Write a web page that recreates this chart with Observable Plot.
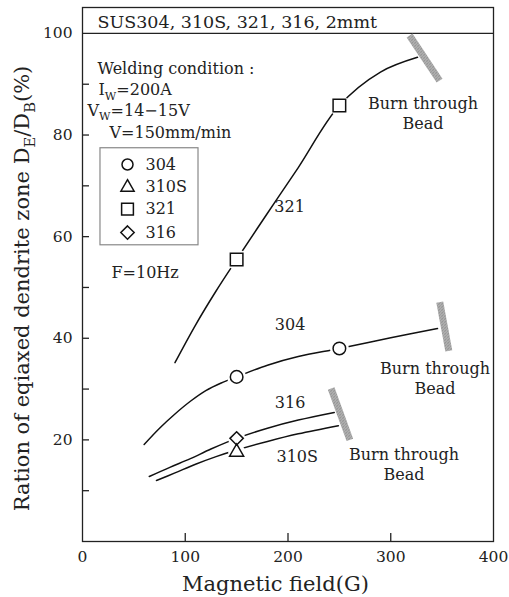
<!DOCTYPE html>
<html><head><meta charset="utf-8">
<script src="https://cdn.jsdelivr.net/npm/d3@7"></script>
<script src="https://cdn.jsdelivr.net/npm/@observablehq/plot@0.6"></script>
<style>body{margin:0;background:#fff}</style>
</head><body><div id="chart"></div>
<script>
const FONT = "DejaVu Serif";

// ---- data ----
const x321 = [90, 110, 130, 150, 180, 210, 250, 290, 326];
const y321 = [35.2, 42.6, 49.3, 55.5, 64.6, 73.6, 85.8, 92.4, 95.3];
const x304 = [60, 75, 90, 105, 120, 135, 150, 180, 210, 250, 300, 345.5];
const y304 = [19.1, 22.3, 25.1, 27.6, 29.7, 31.2, 32.4, 34.7, 36.4, 38.0, 40.1, 41.9];
const x316 = [65, 85, 105, 125, 150, 180, 210, 245];
const y316 = [12.8, 14.6, 16.3, 18.2, 20.3, 22.3, 23.9, 25.4];
const x310S = [72, 90, 110, 130, 150, 180, 210, 249];
const y310S = [12.0, 13.5, 15.2, 16.7, 18.0, 19.7, 21.2, 22.8];

// measured points (markers)
const mark304 = [[150, 32.4], [250, 38.0]];
const mark310S = [[150, 17.6]];
const mark321 = [[150, 55.5], [250, 85.8]];
const mark316 = [[150, 20.3]];

// burn-through limits (start and end of each shaded bar)
const burnBars = [
  [318.3, 99.6, 347.5, 90.7],
  [347.7, 47.1, 356.5, 37.5],
  [242.0, 30.1, 260.2, 20.0]
];
const burnLabels = [[331.4, 84.5], [343.1, 32.3], [312.9, 15.4]];

// tick values
const xTickLabels = [0, 100, 200, 300, 400];
const xInnerTicks = [100, 200, 300];
const yTickLabels = [20, 40, 60, 80, 100];
const yInnerTicks = [10, 20, 30, 40, 50, 60, 70, 80, 90];

// texts
const headerText = "SUS304, 310S, 321, 316, 2mmt";
const condText = [
  ["Welding condition :", 14.6, 93.1],
  ["I_{W}=200A", 15.6, 88.8],
  ["V_{W}=14−15V", 4.9, 84.8],
  ["V=150mm/min", 26.3, 80.5],
  ["F=10Hz", 28.2, 52.8]
];
const seriesLabels = [["321", 201.5, 65.9], ["304", 202, 42.7], ["316", 202, 27.2], ["310S", 209, 16.7]];
const legendNames = ["304", "310S", "321", "316"];
const legendSymbols = ["circle", "triangle2", "square2", "diamond2"];
const legendR = [5.5, 6.3, 7.5, 6];
const legendY = [74.2, 69.7, 65.4, 60.8];
const legendBox = [17.5, 58.3, 112.9, 77.4];

const toPts = (xs, ys) => xs.map((x, i) => ({x, y: ys[i]}));
const toMk = a => a.map(([x, y]) => ({x, y}));

const series = [
  {pts: toPts(x321, y321), mk: toMk(mark321), sym: "square2", r: 8, halo: 10.5},
  {pts: toPts(x304, y304), mk: toMk(mark304), sym: "circle", r: 6.3, halo: 9.5},
  {pts: toPts(x316, y316), mk: toMk(mark316), sym: "diamond2", r: 6, halo: 8.5},
  {pts: toPts(x310S, y310S), mk: toMk(mark310S), sym: "triangle2", r: 6.7, halo: 8.5}
];

// tick lengths in pixels, converted to data units below
const X_PER_PX = 400 / 411, Y_PER_PX = 105.1 / 534;

const HATCH = "#a9a9aa";
const marks = [];

// frame and 100-line
marks.push(Plot.frame({stroke: "#222", strokeWidth: 1.3}));
marks.push(Plot.ruleY([100], {stroke: "#222", strokeWidth: 1.3}));

// axes (labels) and inward ticks
marks.push(Plot.axisX(xTickLabels, {tickSize: 0, tickPadding: 9, fontSize: 15.5, label: null, fill: "#222"}));
marks.push(Plot.axisY(yTickLabels, {tickSize: 0, tickPadding: 10, fontSize: 15.5, label: null, fill: "#222"}));
marks.push(Plot.ruleX(xInnerTicks, {x: d => d, y1: 0, y2: 8 * Y_PER_PX, stroke: "#222", strokeWidth: 1.3}));
marks.push(Plot.ruleY(yInnerTicks, {y: d => d, x1: 0, x2: 7 * X_PER_PX, stroke: "#222", strokeWidth: 1.3}));

// axis titles
marks.push(Plot.text(["Magnetic field(G)"], {x: 187.8, frameAnchor: "bottom", dy: 43, lineAnchor: "middle", textAnchor: "middle", fontSize: 21, fill: "#222"}));
marks.push(Plot.text(["Ration of eqiaxed dendrite zone D_{E}/D_{B}(%)"], {y: 49.8, frameAnchor: "left", dx: -60, rotate: -90, textAnchor: "middle", lineAnchor: "middle", fontSize: 21, fill: "#222"}));

// header
marks.push(Plot.text([headerText], {x: 14.6, y: 102.1, textAnchor: "start", fontSize: 17.5, fill: "#222"}));

// curves
for (const s of series) {
  marks.push(Plot.line(s.pts, {x: "x", y: "y", curve: "catmull-rom", stroke: "#111", strokeWidth: 1.5}));
}
// gaps around markers
for (const s of series) {
  marks.push(Plot.dot(s.mk, {x: "x", y: "y", r: s.halo, fill: "white", stroke: null}));
}
for (const s of series) {
  marks.push(Plot.dot(s.mk, {x: "x", y: "y", r: s.r, symbol: s.sym, stroke: "#111", strokeWidth: 1.5, fill: "none"}));
}

// burn-through bars
marks.push(Plot.link(burnBars, {x1: d => d[0], y1: d => d[1], x2: d => d[2], y2: d => d[3], stroke: HATCH, strokeWidth: 7}));
marks.push(Plot.text(burnLabels, {x: d => d[0], y: d => d[1], text: () => "Burn through\nBead", lineHeight: 1.27, fontSize: 16, fill: "#222"}));

// series labels
marks.push(Plot.text(seriesLabels, {x: d => d[1], y: d => d[2], text: d => d[0], fontSize: 16, fill: "#222"}));

// conditions
marks.push(Plot.text(condText, {x: d => d[1], y: d => d[2], text: d => d[0], textAnchor: "start", fontSize: 16, fill: "#222"}));

// legend
marks.push(Plot.rect([legendBox], {x1: d => d[0], y1: d => d[1], x2: d => d[2], y2: d => d[3], fill: "none", stroke: "#888", strokeWidth: 1.2}));
legendNames.forEach((n, i) => {
  marks.push(Plot.dot([legendY[i]], {x: 43.8, y: d => d, r: legendR[i], symbol: legendSymbols[i], stroke: "#111", strokeWidth: 1.5, fill: "none"}));
  marks.push(Plot.text([n], {x: 61.3, y: legendY[i], textAnchor: "start", fontSize: 16, fill: "#222"}));
});

const svg = Plot.plot({
  width: 509,
  height: 597,
  marginLeft: 82,
  marginRight: 16,
  marginTop: 7,
  marginBottom: 56,
  x: {domain: [0, 400], label: null},
  y: {domain: [0, 105.1], label: null},
  style: {fontFamily: FONT, fontSize: "15px", color: "#222", background: "#fff"},
  marks
});
document.getElementById("chart").appendChild(svg);

// stippled fill for burn-through bars
const ns = "http://www.w3.org/2000/svg";
const defs = document.createElementNS(ns, "defs");
defs.innerHTML = '<pattern id="hp" width="3" height="3" patternUnits="userSpaceOnUse"><rect width="3" height="3" fill="#bdbdbd"/><rect x="0" y="0" width="1" height="1" fill="#666"/><rect x="2" y="1" width="1" height="1" fill="#888"/><rect x="1" y="2" width="1" height="1" fill="#777"/></pattern>';
svg.insertBefore(defs, svg.firstChild);
svg.querySelectorAll('[stroke="' + HATCH + '"]').forEach(e => e.setAttribute("stroke", "url(#hp)"));

// subscripts
svg.querySelectorAll("text").forEach(t => {
  const spans = t.querySelectorAll("tspan");
  const targets = spans.length ? Array.from(spans) : [t];
  targets.forEach(el => {
    const s = el.textContent;
    if (!s.includes("_{")) return;
    const fs = parseFloat(getComputedStyle(el).fontSize) || 16;
    el.textContent = "";
    let shifted = false;
    s.split(/(_\{[^}]*\})/).forEach(p => {
      if (!p) return;
      const ts = document.createElementNS(ns, "tspan");
      if (p.startsWith("_{")) {
        ts.textContent = p.slice(2, -1);
        ts.setAttribute("font-size", (fs * 0.7) + "px");
        ts.setAttribute("dy", (fs * 0.28) + "px");
        shifted = true;
      } else {
        ts.textContent = p;
        if (shifted) { ts.setAttribute("dy", (-fs * 0.28) + "px"); shifted = false; }
      }
      el.appendChild(ts);
    });
  });
});
</script>
</body></html>
